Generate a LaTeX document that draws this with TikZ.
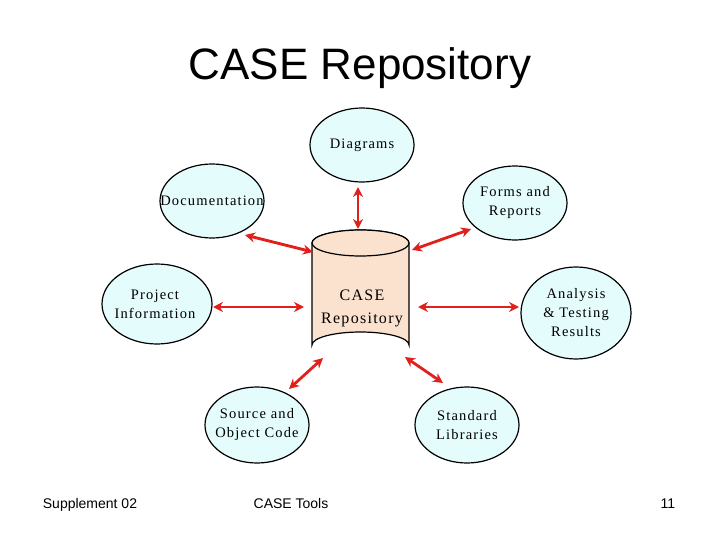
\documentclass[tikz,border=0pt]{standalone}
\usepackage{fontspec}
\setmainfont{Liberation Serif}[LetterSpace=8]
\newfontfamily\sansf{Liberation Sans}
\usetikzlibrary{arrows.meta}
\definecolor{ecyan}{HTML}{E4FCFC}
\definecolor{peach}{HTML}{FBE2CF}
\definecolor{ared}{HTML}{E0201C}
\begin{document}
\begin{tikzpicture}[x=1pt,y=-1pt,
  el/.style={draw=black,line width=1.2pt,fill=ecyan},
  lbl/.style={align=center,font=\fontsize{14.5}{19}\selectfont},
  arr/.style={draw=ared,line width=2.8pt,{Stealth[length=10pt,width=10pt]}-{Stealth[length=10pt,width=10pt]}},
  foot/.style={font=\sansf\fontsize{14}{16}\selectfont,anchor=base}]
\useasboundingbox[fill=white] (0,0) rectangle (720,540);
\node[font=\sansf\fontsize{44}{48}\selectfont] (title) at (360,68) {CASE Repository};
% ellipses
\draw[el] (362,145) ellipse [x radius=52,y radius=37];
\node[lbl] (diag) at (362,145) {Diagrams};
\draw[el] (212,201) ellipse [x radius=52,y radius=37];
\node[lbl] (doc) at (212,201) {Documentation};
\draw[el] (515,203) ellipse [x radius=52,y radius=37];
\node[lbl] (forms) at (515,203) {Forms and\\Reports};
\draw[el] (157,304) ellipse [x radius=55,y radius=40];
\node[lbl] (proj) at (155,304) {Project\\Information};
\draw[el] (576,313) ellipse [x radius=55,y radius=46];
\node[lbl] (anal) at (576,313) {Analysis\\\& Testing\\Results};
\draw[el] (257,425) ellipse [x radius=52,y radius=38];
\node[lbl] (src) at (257,425) {Source and\\Object Code};
\draw[el] (467,425) ellipse [x radius=52,y radius=38];
\node[lbl] (std) at (467,425) {Standard\\Libraries};
% cylinder
\draw[line width=1.2pt,fill=peach] (312,243) -- (312,345) arc[start angle=180,end angle=360,x radius=48.5,y radius=13] -- (409,243) arc[start angle=0,end angle=-180,x radius=48.5,y radius=13] -- cycle;
\draw[line width=1.2pt,fill=peach] (360.5,243) ellipse [x radius=48.5,y radius=13];
\node[lbl,font=\fontsize{16}{23}\selectfont] (repo) at (362,308) {CASE\\Repository};
% arrows
\coordinate (a1) at (358,187); \coordinate (b1) at (358,229);
\coordinate (a2) at (245,235); \coordinate (b2) at (313,252);
\coordinate (a3) at (471,229); \coordinate (b3) at (412,250);
\coordinate (a4) at (213,307); \coordinate (b4) at (304,307);
\coordinate (a5) at (418,307); \coordinate (b5) at (519,307);
\coordinate (a6) at (323,358); \coordinate (b6) at (289,389);
\coordinate (a7) at (405,357); \coordinate (b7) at (443,383);
\foreach \i in {1,...,7}{\draw[arr] (a\i) -- (b\i);}
% footer
\node[foot] (f1) at (90,508) {Supplement 02};
\node[foot] (f2) at (291,508) {CASE Tools};
\node[foot] (f3) at (668,508) {11};
\end{tikzpicture}
\end{document}
